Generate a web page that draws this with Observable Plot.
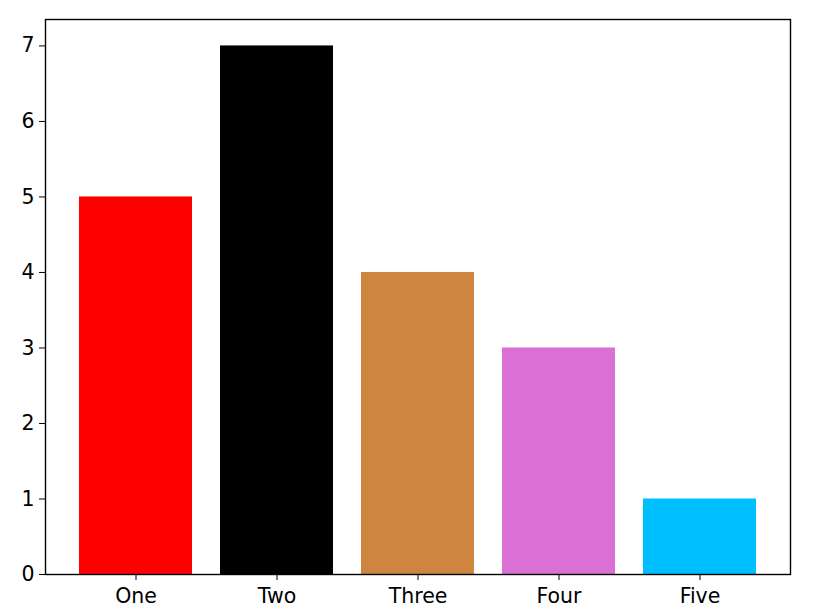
<!DOCTYPE html>
<html>
<head>
<meta charset="utf-8">
<script src="https://cdn.jsdelivr.net/npm/d3@7"></script>
<script src="https://cdn.jsdelivr.net/npm/@observablehq/plot@0.6"></script>
<style>
  html, body { margin: 0; padding: 0; background: #fff; }
  svg { display: block; }
</style>
</head>
<body>
<div id="chart"></div>
<script>
const categories = ["One", "Two", "Three", "Four", "Five"];
const values = [5, 7, 4, 3, 1];
const colors = ["red", "black", "peru", "orchid", "deepskyblue"];
const yTicks = [0, 1, 2, 3, 4, 5, 6, 7];

const data = categories.map((c, i) => ({cat: c, value: values[i], color: colors[i]}));

const chart = Plot.plot({
  width: 814,
  height: 610,
  marginLeft: 45,
  marginRight: 24,
  marginTop: 19,
  marginBottom: 36,
  style: {fontFamily: "DejaVu Sans", fontSize: "20.5px", color: "black", background: "white"},
  x: {domain: categories, paddingInner: 0.2, paddingOuter: 0.24, align: 0.5, label: null},
  y: {domain: [0, 7.35], label: null},
  marks: [
    Plot.barY(data, {x: "cat", y: "value", fill: "color"}),
    Plot.axisX({tickSize: 6, tickPadding: 8, fontSize: 20.5, label: null}),
    Plot.axisY({ticks: yTicks, tickSize: 6, tickPadding: 5, fontSize: 20.5, label: null, tickFormat: d3.format("d")}),
    Plot.frame({stroke: "black", strokeWidth: 1.4})
  ]
});
document.getElementById("chart").appendChild(chart);
</script>
</body>
</html>
